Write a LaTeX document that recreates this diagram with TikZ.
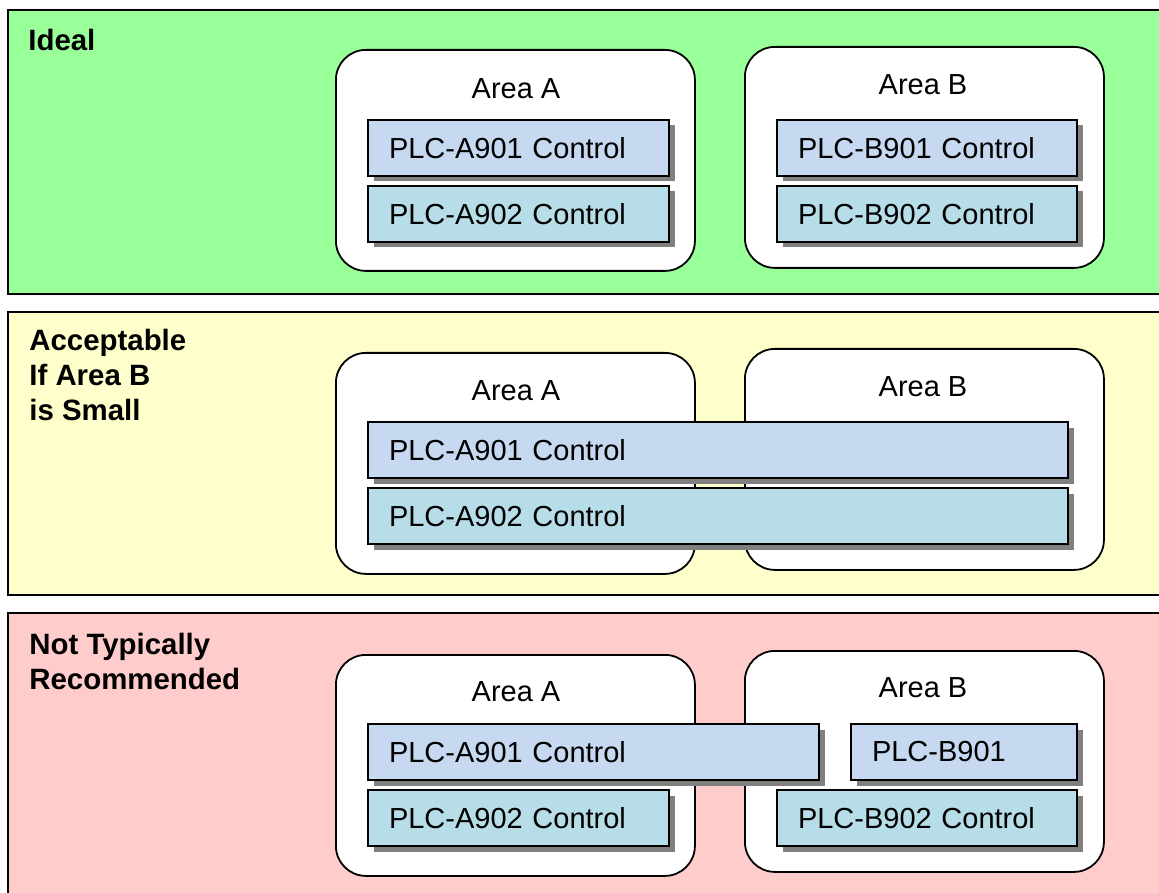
\documentclass[tikz,border=0pt]{standalone}
\usepackage{fontspec}
\setmainfont{Liberation Sans}
\usetikzlibrary{positioning, shadows}
\definecolor{idealg}{HTML}{99FF99}
\definecolor{acceptyl}{HTML}{FFFFCC}
\definecolor{notrecr}{HTML}{FFCCCC}
\definecolor{plcblue}{HTML}{C6D9F0}
\definecolor{plcteal}{HTML}{B7DDE8}

\begin{document}
\begin{tikzpicture}[x=0.5pt, y=-0.5pt,
                panel/.style={draw=black, line width=1pt},
                heading/.style={anchor=north west, inner sep=0pt, align=left, font=\bfseries\fontsize{14.7}{17.5}\selectfont},
                area/.style={draw=black, fill=white, line width=0.9pt, rounded corners=15pt, anchor=north west,
                             minimum width=179.5pt, minimum height=110.5pt},
                areatext/.style={inner sep=0pt, font=\fontsize{14.5}{17}\selectfont}]
            \tikzstyle{plc}=[draw=black, line width=1pt, anchor=west, minimum height=28pt, inner xsep=10.5pt, inner ysep=0pt,
                             align=left, font=\fontsize{14.5}{17}\selectfont,
                             drop shadow={shadow xshift=2.75pt, shadow yshift=-2.75pt, opacity=1, fill=black!50}]
            \useasboundingbox (0,0) rectangle (1159,892);
            \fill[white] (0,0) rectangle (1159,892);
            % ideal
            \draw[panel, fill=idealg] (8,10) rectangle (1175,294);
            \node[heading] (hideal) at (28,29) {Ideal};
            \node[area] (areaAi) at (335,49) {};
            \node[area] (areaBi) at (744,46) {};
            \node[areatext] (txtAi) at (516,89) {Area A};
            \node[areatext] (txtBi) at (923,85) {Area B};
            \node[plc, fill=plcblue, text width=129.5pt] (a901i) at (367,148) {PLC-A901 Control};
            \node[plc, fill=plcteal, text width=129.5pt] (a902i) at (367,214) {PLC-A902 Control};
            \node[plc, fill=plcblue, text width=129pt] (b901i) at (776,148) {PLC-B901 Control};
            \node[plc, fill=plcteal, text width=129pt] (b902i) at (776,214) {PLC-B902 Control};
            % acceptable
            \draw[panel, fill=acceptyl] (8,312) rectangle (1175,595);
            \node[heading] (hacc) at (29,329) {Acceptable\\If Area B\\is Small};
            \node[area] (areaAa) at (335,352) {};
            \node[area] (areaBa) at (744,348) {};
            \node[areatext] (txtAa) at (516,391) {Area A};
            \node[areatext] (txtBa) at (923,387) {Area B};
            \node[plc, fill=plcblue, text width=329pt] (a901a) at (367,450) {PLC-A901 Control};
            \node[plc, fill=plcteal, text width=329pt] (a902a) at (367,516) {PLC-A902 Control};
            % not recommended
            \draw[panel, fill=notrecr] (8,613) rectangle (1175,910);
            \node[heading] (hnot) at (29,633) {Not Typically\\Recommended};
            \node[area] (areaAn) at (335,654) {};
            \node[area] (areaBn) at (744,650) {};
            \node[areatext] (txtAn) at (516,692) {Area A};
            \node[areatext] (txtBn) at (923,688) {Area B};
            \node[plc, fill=plcblue, text width=204.5pt] (a901n) at (367,752) {PLC-A901 Control};
            \node[plc, fill=plcblue, text width=92pt] (b901n) at (850,752) {PLC-B901};
            \node[plc, fill=plcteal, text width=129.5pt] (a902n) at (367,818) {PLC-A902 Control};
            \node[plc, fill=plcteal, text width=129pt] (b902n) at (776,818) {PLC-B902 Control};
        \end{tikzpicture}
\end{document}
